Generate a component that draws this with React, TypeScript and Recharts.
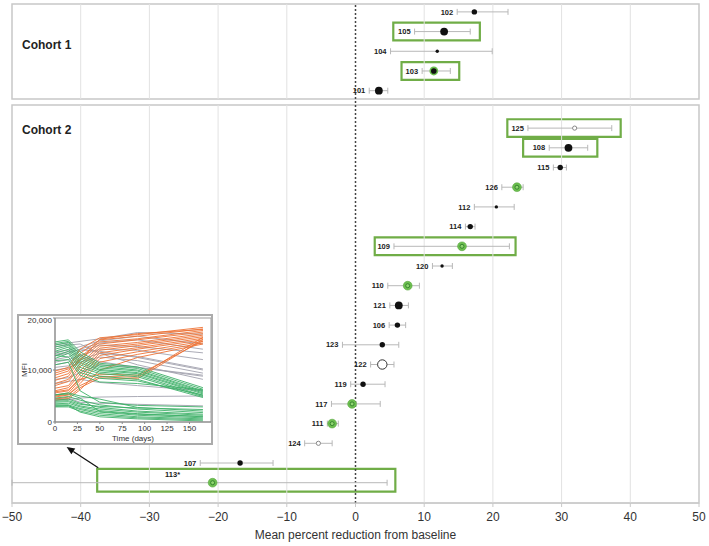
import React from 'react';
import {
  ScatterChart, Scatter, XAxis, YAxis, ErrorBar, ReferenceArea, ReferenceLine, ReferenceDot,
  LineChart, Line,
} from 'recharts';

const FONT = '"Liberation Sans", Arial, sans-serif';

// Cohort 1, top to bottom
const cohort1Ids = ['102', '105', '104', '103', '101'];
const cohort1Mean = [17.3, 12.9, 11.9, 11.4, 3.4];
const cohort1Low = [14.8, 8.6, 5.1, 9.7, 2.0];
const cohort1High = [22.2, 16.7, 19.9, 13.8, 4.7];
const cohort1Group = ['mid', 'high', 'low', 'responderDot', 'high'];

// Cohort 2, top to bottom (113* lower bound runs past the axis)
const cohort2Ids = ['125', '108', '115', '126', '112', '114', '109', '120', '110', '121', '106', '123', '122', '119', '117', '111', '124', '107', '113*'];
const cohort2Mean = [31.9, 31.0, 29.8, 23.5, 20.5, 16.7, 15.5, 12.6, 7.6, 6.3, 6.1, 3.9, 3.9, 1.1, -0.5, -3.4, -5.4, -16.8, -20.8];
const cohort2Low = [25.1, 28.2, 28.8, 21.3, 17.3, 16.0, 5.6, 11.2, 4.7, 5.0, 4.9, -1.9, 2.2, -0.7, -3.5, -4.1, -7.4, -22.6, -50];
const cohort2High = [37.3, 33.8, 30.7, 24.4, 23.1, 17.4, 22.4, 14.1, 9.3, 7.7, 7.3, 6.3, 5.6, 4.3, 3.6, -2.5, -3.4, -12.0, 4.6];
const cohort2Group = ['open', 'high', 'mid', 'responder', 'low', 'mid', 'responder', 'low', 'responder', 'high', 'mid', 'mid', 'openLarge', 'mid', 'responder', 'responder', 'open', 'mid', 'responder'];

// highlighted patients (green boxes), x extent in percent
const boxIds = ['105', '103', '125', '108', '109', '113*'];
const boxFrom = [5.5, 6.7, 22.1, 24.4, 2.8, -37.6];
const boxTo = [18.1, 15.1, 38.6, 35.2, 23.3, 5.8];

const xTicks = [-50, -40, -30, -20, -10, 0, 10, 20, 30, 40, 50];

// inset: MFI over time
const insetDays = [0, 15, 28, 50, 92, 165];
const orangeLines = [
  [9800, 10500, 14000, 16200, 16800, 18200],
  [9000, 9800, 13200, 15800, 16500, 17900],
  [8500, 9300, 12500, 15400, 16000, 17600],
  [8000, 8800, 12000, 15000, 15800, 17300],
  [7400, 8200, 11200, 14600, 15300, 17000],
  [7000, 7800, 10600, 14200, 15000, 16700],
  [6500, 7000, 9800, 13800, 14700, 16400],
  [6000, 6600, 9200, 13300, 14300, 16100],
  [5600, 6000, 8600, 12800, 14000, 15800],
  [5200, 5600, 8000, 12200, 13500, 15500],
  [4800, 5200, 7400, 11500, 13000, 15200],
  [4400, 4800, 6600, 8500, 8300, 15900],
  [5000, 5300, 7000, 8800, 8600, 16300],
  [5800, 6200, 8200, 9200, 9000, 15600],
  [4200, 4500, 6200, 10000, 12400, 15000],
  [9400, 10200, 11800, 15900, 17000, 17800],
];
const grayLines = [
  [14800, 15200, 15500, 16000, 17200, 16900],
  [13500, 13800, 14500, 15600, 16500, 15000],
  [12800, 13200, 14000, 15200, 15800, 14000],
  [12000, 12500, 13600, 14800, 14500, 13300],
  [11000, 11500, 12800, 14000, 13800, 12000],
  [10500, 10800, 12000, 13200, 12600, 10200],
  [10000, 10400, 11500, 12500, 11800, 9400],
  [13000, 13500, 13900, 13600, 12400, 10000],
  [8200, 8500, 9500, 11000, 10500, 8800],
  [7400, 7800, 8200, 7600, 7000, 6000],
  [4200, 4300, 4600, 4800, 4900, 5000],
  [4500, 4600, 3800, 3600, 3400, 3100],
  [14500, 14800, 15000, 13200, 11000, 8200],
  [11500, 12000, 12800, 11600, 10500, 9000],
];
const greenLines = [
  [15400, 15800, 13500, 11300, 10600, 6600],
  [15100, 15500, 13000, 11000, 10300, 6300],
  [14800, 15300, 12600, 10700, 10000, 6000],
  [14400, 15000, 12200, 10400, 9800, 5800],
  [14000, 14700, 11800, 10100, 9500, 5600],
  [13600, 14400, 11400, 9900, 9300, 5400],
  [13200, 14000, 11000, 9600, 9000, 5100],
  [12700, 13600, 10500, 9300, 8700, 4900],
  [12200, 13200, 10000, 8800, 8200, 4700],
  [12800, 12500, 9500, 8400, 7900, 5200],
  [11800, 12000, 9000, 7700, 7400, 6200],
  [5200, 5600, 5000, 4400, 2800, 2100],
  [4600, 4900, 4200, 3300, 2500, 1800],
  [4200, 4400, 3600, 2800, 2100, 1500],
  [3800, 3900, 3100, 2500, 1900, 1300],
  [3500, 3600, 2900, 2200, 1600, 1000],
  [3200, 3300, 2600, 1900, 1300, 800],
  [3000, 3100, 2400, 1600, 1000, 600],
  [2900, 2900, 2100, 1300, 800, 400],
  [3300, 3200, 1900, 1000, 600, 200],
  [4000, 4100, 3400, 3000, 2700, 2400],
  [11000, 11500, 6000, 3800, 3200, 2900],
  [5200, 5400, 4600, 2000, 1500, 1100],
];

const X_MIN = -50;
const Y_MAX = 25.33;
const C1_START = 0.4;
const C2_START = 6.3;
const PANEL1 = [0, 4.82];
const PANEL2 = [5.13, Y_MAX];

const makeRows = (ids, mean, low, high, group, start) =>
  ids.map((id, i) => ({
    id,
    x: mean[i],
    y: start + i,
    lo: low[i],
    hi: high[i],
    group: group[i],
    err: [mean[i] - low[i], high[i] - mean[i]],
  }));

const rows = [
  ...makeRows(cohort1Ids, cohort1Mean, cohort1Low, cohort1High, cohort1Group, C1_START),
  ...makeRows(cohort2Ids, cohort2Mean, cohort2Low, cohort2High, cohort2Group, C2_START),
];

// id labels sit left of the whisker; when the whisker is cut by the axis they go above the dot
const labelRows = rows.map((r) => ({
  id: r.id,
  x: r.lo <= X_MIN ? r.x : r.lo,
  y: r.y,
  above: r.lo <= X_MIN,
}));

const boxes = boxIds.map((id, i) => {
  const r = rows.find((row) => row.id === id);
  return { id, x1: boxFrom[i], x2: boxTo[i], y1: r.y - (r.lo <= X_MIN ? 0.7 : 0.45), y2: r.y + 0.45 };
});

const insetData = insetDays.map((day, k) => {
  const row = { day };
  grayLines.forEach((l, i) => { row['g' + i] = l[k]; });
  orangeLines.forEach((l, i) => { row['o' + i] = l[k]; });
  greenLines.forEach((l, i) => { row['n' + i] = l[k]; });
  return row;
});

const GREEN = '#70ad47';

const Marker = (props) => {
  const { cx, cy, payload } = props;
  if (cx == null || cy == null) return null;
  switch (payload.group) {
    case 'high':
      return <circle cx={cx} cy={cy} r={3.9} fill="#111" />;
    case 'mid':
      return <circle cx={cx} cy={cy} r={2.7} fill="#111" />;
    case 'low':
      return <circle cx={cx} cy={cy} r={1.7} fill="#111" />;
    case 'open':
      return <circle cx={cx} cy={cy} r={2.1} fill="#fff" stroke="#888" strokeWidth={1} />;
    case 'openLarge':
      return <circle cx={cx} cy={cy} r={4.7} fill="#fff" stroke="#333" strokeWidth={1} />;
    case 'responderDot':
      return (
        <g>
          <circle cx={cx} cy={cy} r={4.4} fill="#6cbf4f" />
          <circle cx={cx} cy={cy} r={2.8} fill="#111" />
        </g>
      );
    default:
      return (
        <g>
          <circle cx={cx} cy={cy} r={4.4} fill="#6cbf4f" stroke="#5aa842" strokeWidth={0.6} />
          <circle cx={cx} cy={cy} r={2} fill="#8fd46f" stroke="#2f7d2a" strokeWidth={0.9} />
        </g>
      );
  }
};

const IdLabel = (props) => {
  const { cx, cy, payload } = props;
  if (cx == null || cy == null) return null;
  if (payload.above) {
    return (
      <text x={cx - 40} y={cy - 8} textAnchor="middle" dy="0.35em" fontSize={7.5} fontWeight={700} fill="#222" fontFamily={FONT}>
        {payload.id}
      </text>
    );
  }
  return (
    <text x={cx - 4} y={cy} textAnchor="end" dy="0.35em" fontSize={7.5} fontWeight={700} fill="#222" fontFamily={FONT}>
      {payload.id}
    </text>
  );
};

const Arrow = (p) => {
  const { x1, y1, x2, y2 } = p;
  const a = Math.atan2(y2 - y1, x2 - x1);
  const L = 8;
  const W = 3.5;
  const bx = x2 - L * Math.cos(a);
  const by = y2 - L * Math.sin(a);
  const pts = `${x2},${y2} ${bx + W * Math.sin(a)},${by - W * Math.cos(a)} ${bx - W * Math.sin(a)},${by + W * Math.cos(a)}`;
  return (
    <g>
      <line x1={x1} y1={y1} x2={bx} y2={by} stroke="#111" strokeWidth={1.3} />
      <polygon points={pts} fill="#111" />
    </g>
  );
};

const fmtTick = (v) => (v < 0 ? '\u2212' + Math.abs(v) : String(v));

export default function App() {
  const grid = xTicks.filter((t) => t !== 0 && t !== -50 && t !== 50);
  return (
    <div style={{ position: 'absolute', left: 0, top: 0, width: 709, height: 546, background: '#fff', fontFamily: FONT }}>
      <ScatterChart width={709} height={546} margin={{ top: 4, right: 10, bottom: 0, left: 12 }}>
        <XAxis
          type="number"
          dataKey="x"
          domain={[-50, 50]}
          ticks={xTicks}
          tickFormatter={fmtTick}
          height={43}
          stroke="#c8c8c8"
          tickSize={4}
          tickMargin={5}
          tick={{ fontSize: 12, fill: '#333', fontFamily: FONT }}
          label={{ value: 'Mean percent reduction from baseline', position: 'insideBottom', offset: 7, fontSize: 12, fill: '#333', fontFamily: FONT }}
        />
        <YAxis type="number" dataKey="y" domain={[0, Y_MAX]} reversed hide />

        <ReferenceArea x1={-50} x2={50} y1={PANEL1[0]} y2={PANEL1[1]} fill="#fff" fillOpacity={1} stroke="#c8c8c8" strokeWidth={1.5} />
        <ReferenceArea x1={-50} x2={50} y1={PANEL2[0]} y2={PANEL2[1]} fill="#fff" fillOpacity={1} stroke="#c8c8c8" strokeWidth={1.5} />

        {grid.map((t) => (
          <ReferenceLine key={'a' + t} segment={[{ x: t, y: PANEL1[0] }, { x: t, y: PANEL1[1] }]} stroke="#e2e2e2" strokeWidth={1} />
        ))}
        {grid.map((t) => (
          <ReferenceLine key={'b' + t} segment={[{ x: t, y: PANEL2[0] }, { x: t, y: PANEL2[1] }]} stroke="#e2e2e2" strokeWidth={1} />
        ))}
        <ReferenceLine x={0} stroke="#444" strokeWidth={1.5} strokeDasharray="2 2" />

        <ReferenceDot x={-50} y={2.08} r={0} fill="none" stroke="none"
          label={{ value: 'Cohort 1', position: 'right', offset: 10, fontSize: 12, fontWeight: 700, fill: '#222', fontFamily: FONT }} />
        <ReferenceDot x={-50} y={6.4} r={0} fill="none" stroke="none"
          label={{ value: 'Cohort 2', position: 'right', offset: 10, fontSize: 12, fontWeight: 700, fill: '#222', fontFamily: FONT }} />

        {boxes.map((b) => (
          <ReferenceArea key={b.id} x1={b.x1} x2={b.x2} y1={b.y1} y2={b.y2} fill="none" fillOpacity={0} stroke={GREEN} strokeWidth={2.2} ifOverflow="visible" />
        ))}

        <ReferenceLine segment={[{ x: -37.45, y: 23.54 }, { x: -42.05, y: 22.49 }]} ifOverflow="visible" shape={Arrow} />

        <Scatter data={rows} shape={Marker} isAnimationActive={false}>
          <ErrorBar dataKey="err" direction="x" width={3} stroke="#b8b8b8" strokeWidth={1} isAnimationActive={false} />
        </Scatter>
        <Scatter data={labelRows} shape={IdLabel} isAnimationActive={false} />
      </ScatterChart>

      <div style={{ position: 'absolute', left: 17, top: 314, width: 196, height: 131, boxSizing: 'border-box', border: '2px solid #ababab', background: '#fff' }}>
        <LineChart width={192} height={127} data={insetData} margin={{ top: 2, right: 0, bottom: 0, left: 0 }}>
          <XAxis
            type="number"
            dataKey="day"
            domain={[0, 174]}
            ticks={[0, 25, 50, 75, 100, 125, 150]}
            height={21}
            stroke="#888"
            tickSize={2}
            tickMargin={1}
            tick={{ fontSize: 8, fill: '#333', fontFamily: FONT }}
            label={{ value: 'Time (days)', position: 'insideBottom', offset: 2, fontSize: 8, fill: '#333', fontFamily: FONT }}
          />
          <YAxis
            type="number"
            domain={[0, 20000]}
            ticks={[0, 10000, 20000]}
            width={36}
            stroke="#888"
            tickSize={2}
            tickMargin={1}
            tickFormatter={(v) => v.toLocaleString('en-US')}
            tick={{ fontSize: 8, fill: '#333', fontFamily: FONT }}
            label={{ value: 'MFI', angle: -90, position: 'insideLeft', offset: 5, fontSize: 8, fill: '#333', fontFamily: FONT, style: { textAnchor: 'middle' } }}
          />
          <ReferenceArea x1={0} x2={174} y1={0} y2={20000} fill="none" fillOpacity={0} stroke="#999" strokeWidth={1} />
          {grayLines.map((_, i) => (
            <Line key={'g' + i} dataKey={'g' + i} stroke="#a2a2ae" strokeWidth={0.9} dot={false} type="linear" isAnimationActive={false} />
          ))}
          {orangeLines.map((_, i) => (
            <Line key={'o' + i} dataKey={'o' + i} stroke="#ee7335" strokeWidth={0.9} dot={false} type="linear" isAnimationActive={false} />
          ))}
          {greenLines.map((_, i) => (
            <Line key={'n' + i} dataKey={'n' + i} stroke="#3db068" strokeWidth={0.9} dot={false} type="linear" isAnimationActive={false} />
          ))}
        </LineChart>
      </div>
    </div>
  );
}
